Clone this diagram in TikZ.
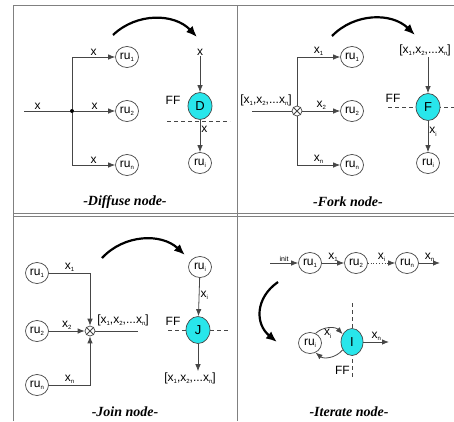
\documentclass[tikz,border=0pt]{standalone}
\usepackage{fontspec}
\setmainfont{Liberation Serif}
\setsansfont{Liberation Sans}
\usepackage{tikz}
\usetikzlibrary{positioning,arrows.meta,shapes.geometric}
\definecolor{opcyan}{RGB}{40,230,235}
\definecolor{wiregray}{RGB}{70,70,70}
\newcommand{\lsub}[1]{\raisebox{-0.35ex}{\fontsize{6}{6}\selectfont #1}}
\newcommand{\xvec}{[x\lsub{1},x\lsub{2},...x\lsub{n}]}

\begin{document}
\begin{tikzpicture}[x=1pt, y=1pt,
				lbl/.style={font=\sffamily\fontsize{12}{12}\selectfont, inner sep=1pt},
				ru/.style={ellipse, draw=wiregray, line width=0.7pt, fill=white, minimum width=23pt, minimum height=21pt, inner sep=0pt, font=\sffamily\fontsize{12}{12}\selectfont},
				op/.style={ellipse, draw=wiregray, line width=0.7pt, fill=opcyan, minimum width=24pt, minimum height=27pt, inner sep=0pt, font=\sffamily\fontsize{13}{13}\selectfont},
				cross/.style={circle, draw=wiregray, line width=0.7pt, fill=white, minimum size=10pt, inner sep=0pt},
				dot/.style={circle, fill=black, minimum size=4pt, inner sep=0pt},
				wire/.style={draw=wiregray, line width=0.8pt},
				flow/.style={wire, -{Latex[length=7pt,width=5.5pt]}},
				big/.style={line width=2.2pt, -{Latex[length=11pt,width=9pt]}},
				ffline/.style={draw=wiregray, line width=0.7pt, dash pattern=on 4pt off 3pt},
				caption/.style={font=\rmfamily\bfseries\itshape\fontsize{14}{14}\selectfont}
			]
			\useasboundingbox (0,0) rectangle (454,-421);
			% Frame
			\draw[gray, line width=0.8pt] (13,-421) -- (13,-5) -- (454,-5);
			\draw[gray, line width=0.8pt] (237,-5) -- (237,-421);
			\draw[gray, line width=0.8pt] (13,-213) -- (454,-213);
			\draw[gray, line width=0.8pt] (13,-216) -- (454,-216);

			% Diffuse node
			\coordinate (din) at (24,-111);
			\node[dot] (dj) at (72,-111) {};
			\node[ru] (d1) at (127,-57) {ru\lsub{1}};
			\node[ru] (d2) at (127,-111) {ru\lsub{2}};
			\node[ru] (dn) at (127,-165) {ru\lsub{n}};
			\draw[wire] (din) -- node[lbl, above, pos=0.3] {x} (dj);
			\draw[flow] (dj) |- node[lbl, above, pos=0.75] {x} (d1);
			\draw[flow] (dj) -- node[lbl, above] {x} (d2);
			\draw[flow] (dj) |- node[lbl, above, pos=0.75] {x} (dn);
			\coordinate (dstart) at (113,-35);
			\coordinate (dstop) at (197,-37);
			\draw[big] (dstart) to[bend left=45] (dstop);
			\coordinate (dleft) at (167,-121);
			\coordinate (dright) at (230,-121);
			\draw[ffline] (dleft) -- (dright);
			\node[lbl] (dx) at (200,-52) {x};
			\node[op] (dop) at (200,-106) {D};
			\node[lbl] (dff) at (173,-100) {FF};
			\node[ru] (di) at (200,-163) {ru\lsub{i}};
			\draw[flow] (dx) -- (dop);
			\draw[flow] (dop) -- node[lbl, right, pos=0.3] {x} (di);
			\node[caption] (dcap) at (125,-202) {-Diffuse node-};

			% Fork node
			\coordinate (fin) at (252,-111);
			\node[lbl] (fvec) at (266,-100) {\xvec};
			\node[cross] (fx) at (297,-111) {};
			\draw[wire] (fx.north west) -- (fx.south east);
			\draw[wire] (fx.north east) -- (fx.south west);
			\node[ru] (f1) at (352,-57) {ru\lsub{1}};
			\node[ru] (f2) at (352,-111) {ru\lsub{2}};
			\node[ru] (fn) at (352,-165) {ru\lsub{n}};
			\draw[wire] (fin) -- (fx);
			\draw[flow] (fx) |- node[lbl, above, pos=0.75] {x\lsub{1}} (f1);
			\draw[flow] (fx) -- node[lbl, above] {x\lsub{2}} (f2);
			\draw[flow] (fx) |- node[lbl, above, pos=0.75] {x\lsub{n}} (fn);
			\coordinate (fstart) at (332,-36);
			\coordinate (fstop) at (415,-35);
			\draw[big] (fstart) to[bend left=45] (fstop);
			\coordinate (fleft) at (388,-107);
			\coordinate (fright) at (454,-107);
			\draw[ffline] (fleft) -- (fright);
			\node[lbl] (fout) at (425,-50) {\xvec};
			\node[op] (fop) at (428,-107) {F};
			\node[lbl] (fff) at (393,-98) {FF};
			\node[ru] (fi) at (428,-163) {ru\lsub{i}};
			\draw[flow] (fout.south -| fop) -- (fop);
			\draw[flow] (fop) -- node[lbl, right, pos=0.35] {x\lsub{i}} (fi);
			\node[caption] (fcap) at (348,-202) {-Fork node-};

			% Join node
			\node[ru] (j1) at (37,-273) {ru\lsub{1}};
			\node[ru] (j2) at (37,-331) {ru\lsub{2}};
			\node[ru] (jn) at (37,-385) {ru\lsub{n}};
			\node[cross] (jx) at (90,-331) {};
			\draw[wire] (jx.north west) -- (jx.south east);
			\draw[wire] (jx.north east) -- (jx.south west);
			\draw[flow] (j1) -| node[lbl, above, pos=0.25] {x\lsub{1}} (jx);
			\draw[flow] (j2) -- node[lbl, above] {x\lsub{2}} (jx);
			\draw[flow] (jn) -| node[lbl, above, pos=0.25] {x\lsub{n}} (jx);
			\coordinate (jend) at (138,-331);
			\draw[wire] (jx) -- (jend);
			\node[lbl] (jvec) at (123,-320) {\xvec};
			\coordinate (jstart) at (102,-258);
			\coordinate (jstop) at (185,-255);
			\draw[big] (jstart) to[bend left=45] (jstop);
			\coordinate (jleft) at (168,-330);
			\coordinate (jright) at (230,-330);
			\draw[ffline] (jleft) -- (jright);
			\node[ru] (ji) at (200,-267) {ru\lsub{i}};
			\node[op] (jop) at (198,-330) {J};
			\node[lbl] (jff) at (173,-321) {FF};
			\node[lbl] (jres) at (190,-378) {\xvec};
			\draw[flow] (ji) -- node[lbl, right, pos=0.45] {x\lsub{i}} (jop);
			\draw[flow] (jop) -- (jop |- jres.north);
			\node[caption] (jcap) at (125,-412) {-Join node-};

			% Iterate node
			\coordinate (iin) at (270,-263);
			\node[ru] (i1) at (310,-263) {ru\lsub{1}};
			\node[ru] (i2) at (356,-263) {ru\lsub{2}};
			\node[ru] (in) at (407,-263) {ru\lsub{n}};
			\coordinate (iout) at (440,-263);
			\draw[flow] (iin) -- node[above, inner sep=1pt, font=\sffamily\fontsize{7}{7}\selectfont] {init} (i1);
			\draw[flow] (i1) -- node[lbl, above] {x\lsub{1}} (i2);
			\draw[flow, dotted] (i2) -- node[lbl, above] {x\lsub{i}} (in);
			\draw[flow] (in) -- node[lbl, above] {x\lsub{n}} (iout);
			\coordinate (istart) at (278,-282);
			\coordinate (istop) at (277,-342);
			\draw[big] (istart) .. controls (255,-298) and (255,-324) .. (istop);
			\coordinate (itop) at (352,-303);
			\coordinate (ibot) at (352,-378);
			\draw[ffline] (itop) -- (ibot);
			\node[ru] (ii) at (310,-343) {ru\lsub{i}};
			\node[op, minimum width=22pt] (iop) at (352,-342) {I};
			\coordinate (iend) at (389,-342);
			\draw[flow] (ii.60) to[bend left=45] node[lbl, below, pos=0.45] {x\lsub{i}} (iop.140);
			\draw[flow] (iop.220) to[bend left=45] (ii.-60);
			\draw[flow] (iop) -- node[lbl, above] {x\lsub{n}} (iend);
			\node[lbl, anchor=east] (iff) at (351,-370) {FF};
			\node[caption] (icap) at (349,-412) {-Iterate node-};
		\end{tikzpicture}
\end{document}
